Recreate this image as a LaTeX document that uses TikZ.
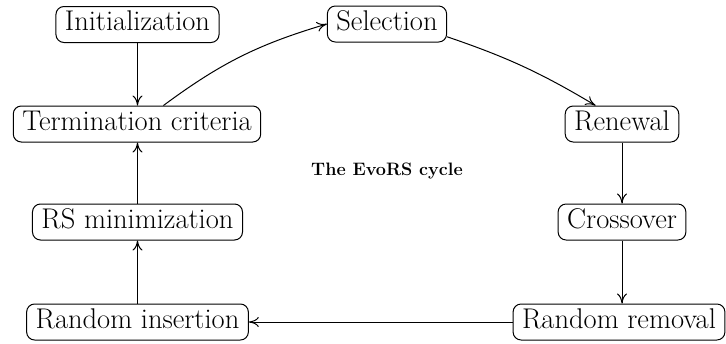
\documentclass[tikz,border=0pt]{standalone}
\usetikzlibrary{arrows.meta}
\begin{document}
\begin{tikzpicture}[x=1pt,y=-1pt,
  box/.style={draw, rounded corners=8pt, line width=1pt, font=\fontsize{28.5}{32}\selectfont, inner xsep=9pt, inner ysep=5pt, text height=19pt, text depth=7pt},
  arr/.style={-{To[length=10pt,width=10pt]}, line width=1pt},
  titlestyle/.style={font=\fontsize{18}{22}\selectfont\bfseries}]
\useasboundingbox (0,0) rectangle (726,343);
\node[box] (init) at (137.5,24.5) {Initialization};
\node[box] (sel) at (387,24) {Selection};
\node[box] (term) at (137,124) {Termination criteria};
\node[box] (ren) at (622,124) {Renewal};
\node[box] (rsm) at (137.5,222) {RS minimization};
\node[box] (cross) at (622,222) {Crossover};
\node[box] (ins) at (137.5,322) {Random insertion};
\node[box] (rem) at (619,322) {Random removal};
\node[titlestyle] (title) at (387,171) {The EvoRS cycle};
\draw[arr] (init.south) -- (init.south |- term.north);
\draw[arr] (term.35) to[bend left=10] (sel.west);
\draw[arr] (sel.-12) to[bend left=6] (ren.145);
\draw[arr] (ren.south) -- (ren.south |- cross.north);
\draw[arr] (cross.south) -- (cross.south |- rem.north);
\draw[arr] (rem.west) -- (ins.east);
\draw[arr] (ins.north) -- (ins.north |- rsm.south);
\draw[arr] (rsm.north) -- (rsm.north |- term.south);
\end{tikzpicture}
\end{document}
